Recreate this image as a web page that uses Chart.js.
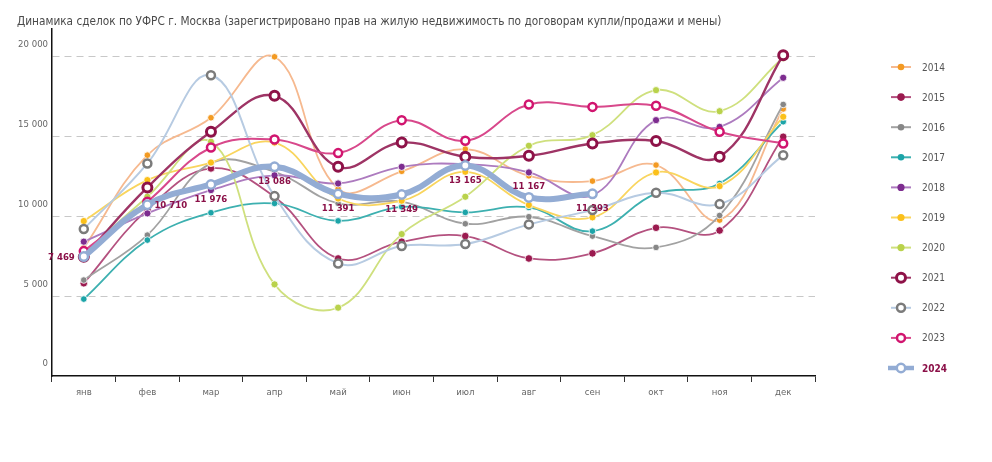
<!DOCTYPE html>
<html><head><meta charset="utf-8">
<script src="https://cdn.jsdelivr.net/npm/chart.js@4.4.1/dist/chart.umd.min.js"></script>
<style>html,body{margin:0;padding:0;background:#fff}#wrap{width:992px;height:462px;position:relative}</style>
</head><body><div id="wrap"><canvas id="c" width="992" height="462"></canvas></div>
<script>
const titleText = 'Динамика сделок по УФРС г. Москва (зарегистрировано прав на жилую недвижимость по договорам купли/продажи и мены)';
const months = ['янв','фев','мар','апр','май','июн','июл','авг','сен','окт','ноя','дек'];
const years = ['2014','2015','2016','2017','2018','2019','2020','2021','2022','2023','2024'];
const yTicks = [0, 5000, 10000, 15000, 20000];

const v2014 = [8000, 13810, 16150, 19960, 11700, 12800, 14190, 12520, 12190, 13190, 9750, 16700];
const v2015 = [5800, 10400, 12980, 11200, 7350, 8400, 8750, 7350, 7670, 9270, 9100, 14960];
const v2016 = [6000, 8810, 13300, 12770, 10800, 10900, 9520, 9960, 8750, 8040, 10040, 16980];
const v2017 = [4810, 8500, 10210, 10790, 9700, 10580, 10230, 10540, 9060, 11400, 12040, 15900];
const v2018 = [8400, 10170, 11625, 12550, 12040, 13080, 13250, 12730, 11300, 16000, 15580, 18650];
const v2019 = [9690, 12250, 13350, 14600, 11100, 10960, 12770, 10690, 9920, 12730, 11875, 16210];
const v2020 = [7700, 11210, 14650, 5730, 4270, 8875, 11210, 14400, 15060, 17875, 16560, 19900];
const v2021 = [7450, 11790, 15270, 17520, 13080, 14600, 13710, 13770, 14540, 14700, 13710, 20060];
const v2022 = [9190, 13290, 18810, 11250, 7040, 8125, 8250, 9480, 10375, 11460, 10750, 13810];
const v2023 = [7810, 10900, 14290, 14790, 13940, 16000, 14710, 16980, 16830, 16900, 15270, 14540];
const v2024 = [7469, 10710, 11976, 13086, 11391, 11349, 13165, 11167, 11393];
const labelPos2024 = ['left','right','below','below','below','below','below','above','below'];

const FONT = "'Liberation Sans Narrow', 'DejaVu Sans Condensed', 'Liberation Sans', sans-serif";
const fmt = v => String(v).replace(/\B(?=(\d{3})+(?!\d))/g, ' ');

const styles = {
  '2014': {line:'#f6b98f', dot:'#f39a22', kind:'dot', w:1.8, r:3.3},
  '2015': {line:'#b4517f', dot:'#9b1a4f', kind:'dot', w:1.8, r:3.8},
  '2016': {line:'#a2a2a2', dot:'#878787', kind:'dot', w:1.8, r:3.3},
  '2017': {line:'#3db0b0', dot:'#1ca4a8', kind:'dot', w:1.8, r:3.3},
  '2018': {line:'#ad7bbf', dot:'#7d2c8f', kind:'dot', w:1.8, r:3.6},
  '2019': {line:'#f9d55e', dot:'#fbc01a', kind:'dot', w:1.8, r:3.6},
  '2020': {line:'#cfe07e', dot:'#b9d24b', kind:'dot', w:1.8, r:3.6},
  '2021': {line:'#9e3465', dot:'#8e1248', kind:'ring', w:2.4, r:4.5, bw:3},
  '2022': {line:'#b7cbe2', dot:'#7b7b7b', kind:'ring', w:2, r:4, bw:2.5},
  '2023': {line:'#d8488b', dot:'#d1156f', kind:'ring', w:2, r:4, bw:2.5},
  '2024': {line:'#93acd4', dot:'#93acd4', kind:'ring', w:6, r:4.2, bw:2.5}
};
const values = [v2014, v2015, v2016, v2017, v2018, v2019, v2020, v2021, v2022, v2023, v2024];

const datasets = years.map((y, i) => {
  const s = styles[y];
  const ring = s.kind === 'ring';
  return {
    label: y,
    data: values[i],
    borderColor: s.line,
    borderWidth: s.w,
    tension: 0.4,
    fill: false,
    pointRadius: s.r,
    pointHoverRadius: s.r,
    pointBackgroundColor: ring ? '#ffffff' : s.dot,
    pointBorderColor: ring ? s.dot : '#ffffff',
    pointBorderWidth: ring ? s.bw : 0.8,
    order: years.length - 1 - i
  };
});

const titlePlugin = {
  id: 'customTitle',
  afterDraw(chart) {
    const ctx = chart.ctx;
    ctx.save();
    ctx.font = '12px ' + FONT;
    const w = ctx.measureText(titleText).width;
    const size = Math.min(14, 12 * 705 / w);
    ctx.font = size.toFixed(2) + 'px ' + FONT;
    ctx.fillStyle = '#4a4a4a';
    ctx.textAlign = 'left';
    ctx.textBaseline = 'middle';
    ctx.fillText(titleText, 17, 22);
    ctx.restore();
  }
};

const dataLabelsPlugin = {
  id: 'dl2024',
  afterDatasetsDraw(chart) {
    const idx = years.indexOf('2024');
    const meta = chart.getDatasetMeta(idx);
    const ctx = chart.ctx;
    ctx.save();
    ctx.font = "bold 9.5px " + FONT;
    ctx.fillStyle = '#8b1048';
    ctx.textBaseline = 'middle';
    meta.data.forEach((pt, i) => {
      const txt = fmt(v2024[i]);
      const pos = labelPos2024[i];
      let x = pt.x, y = pt.y, align = 'center';
      if (pos === 'left') { x -= 9; y += 1; align = 'right'; }
      else if (pos === 'right') { x += 7; y += 1; align = 'left'; }
      else if (pos === 'above') { y -= 11; }
      else { y += 15; }
      ctx.textAlign = align;
      ctx.fillText(txt, x, y);
    });
    ctx.restore();
  }
};

const legendPlugin = {
  id: 'customLegend',
  afterDraw(chart) {
    const ctx = chart.ctx;
    ctx.save();
    years.forEach((y, i) => {
      const s = styles[y];
      const cy = 67 + i * 30.1;
      const is24 = y === '2024';
      ctx.strokeStyle = s.line;
      ctx.lineWidth = is24 ? 4.5 : 2;
      ctx.beginPath();
      ctx.moveTo(is24 ? 888 : 891, cy);
      ctx.lineTo(is24 ? 914 : 911, cy);
      ctx.stroke();
      ctx.beginPath();
      ctx.arc(901, cy, s.r, 0, Math.PI * 2);
      if (s.kind === 'ring') {
        ctx.fillStyle = '#fff';
        ctx.fill();
        ctx.lineWidth = s.bw;
        ctx.strokeStyle = s.dot;
        ctx.stroke();
      } else {
        ctx.fillStyle = s.dot;
        ctx.fill();
      }
      ctx.font = (is24 ? 'bold ' : '') + '10px ' + FONT;
      ctx.fillStyle = is24 ? '#8b1048' : '#555555';
      ctx.textAlign = 'left';
      ctx.textBaseline = 'middle';
      ctx.fillText(y, 922, cy + 1);
    });
    ctx.restore();
  }
};

new Chart(document.getElementById('c'), {
  type: 'line',
  data: { labels: months, datasets },
  options: {
    responsive: false,
    animation: false,
    devicePixelRatio: 1,
    layout: { padding: { left: 0, right: 177, top: 29, bottom: 46 } },
    plugins: {
      legend: { display: false },
      tooltip: { enabled: false },
      title: { display: false }
    },
    scales: {
      x: {
        offset: true,
        afterFit(s) { s.height = 40; },
        grid: { drawOnChartArea: false, drawTicks: true, tickLength: 6, tickColor: '#333', tickWidth: 1, offset: true },
        border: { display: true, color: '#111', width: 1.5 },
        ticks: { color: '#666', font: { family: FONT, size: 9.5 }, padding: 5 }
      },
      y: {
        min: 0,
        max: 21700,
        afterFit(s) { s.width = 52; },
        afterBuildTicks(s) { s.ticks = yTicks.map(v => ({ value: v })); },
        grid: {
          drawTicks: false,
          color: c => (c.tick && c.tick.value === 0) ? 'rgba(0,0,0,0)' : '#c8c8c8',
          lineWidth: 1
        },
        border: { display: true, color: '#111', width: 1.5, dash: [7, 5] },
        ticks: {
          color: '#666',
          font: { family: FONT, size: 9.5 },
          padding: 4,
          labelOffset: -12,
          callback: v => fmt(v)
        }
      }
    }
  },
  plugins: [titlePlugin, dataLabelsPlugin, legendPlugin]
});
</script>
</body></html>
